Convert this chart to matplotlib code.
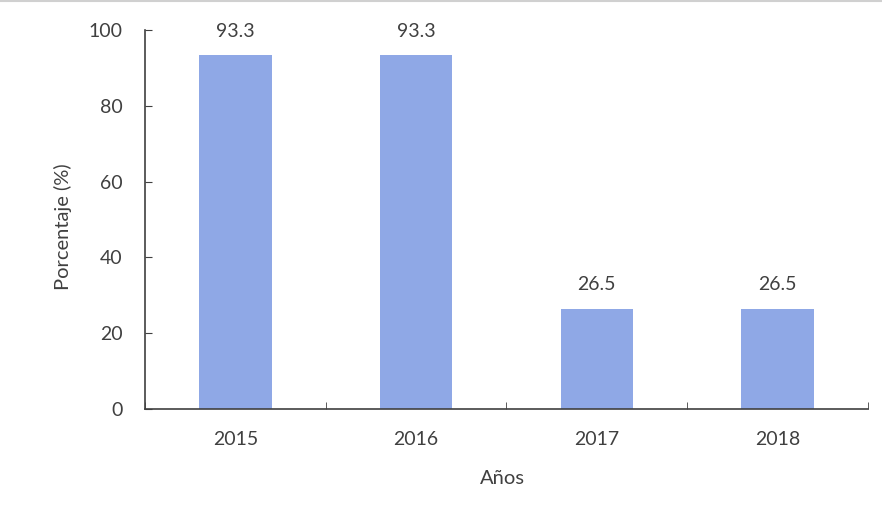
import matplotlib
matplotlib.use('Agg')
import matplotlib.pyplot as plt
from matplotlib.ticker import FixedLocator

years = ['2015', '2016', '2017', '2018']
percentages = [93.3, 93.3, 26.5, 26.5]

plt.rcParams['font.family'] = ['Lato', 'DejaVu Sans']

fig = plt.figure(figsize=(8.82, 5.17), dpi=100)
ax = fig.add_axes([0.1644, 0.2089, 0.8196, 0.7331])

x = range(len(years))
bars = ax.bar(x, percentages, width=0.4, color='#8fa8e6')

# etiquetas de valor encima de cada barra
for bar, val in zip(bars, percentages):
    ax.text(bar.get_x() + bar.get_width() / 2, val + 4.0, f'{val:.1f}',
            ha='center', va='bottom', fontsize=14, color='#404040')

ax.set_xlim(-0.5, len(years) - 0.5)
ax.set_ylim(0, 100)
ax.set_yticks([0, 20, 40, 60, 80, 100])
ax.set_xticks(list(x))
ax.set_xticklabels(years)
ax.xaxis.set_minor_locator(FixedLocator([i - 0.5 for i in range(len(years) + 1)]))
ax.tick_params(axis='x', which='major', length=0, pad=16, labelsize=14, labelcolor='#404040')
ax.tick_params(axis='x', which='minor', direction='in', length=5, color='#404040')
ax.tick_params(axis='y', direction='in', length=5, pad=16, labelsize=14,
               labelcolor='#404040', color='#404040')

for side in ['top', 'right']:
    ax.spines[side].set_visible(False)
for side in ['left', 'bottom']:
    ax.spines[side].set_color('#404040')
    ax.spines[side].set_linewidth(1.2)

ax.set_ylabel('Porcentaje (%)', fontsize=14.5, color='#404040')
ax.set_xlabel('Años', fontsize=14.5, color='#404040')
ax.yaxis.set_label_coords(-0.101, 0.48)
ax.xaxis.set_label_coords(0.495, -0.16)

# borde superior del recuadro escaneado
fig.add_artist(plt.Line2D([0, 1], [0.998, 0.998], color='#d0d0d0', lw=1.5, transform=fig.transFigure))

fig.savefig('out.png', dpi=100)
